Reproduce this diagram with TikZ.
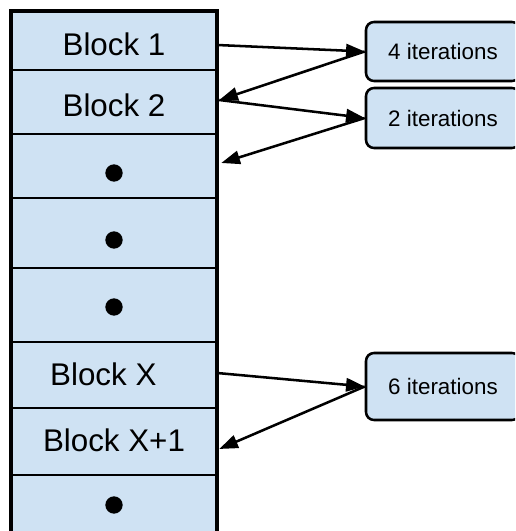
\documentclass[tikz,border=0pt]{standalone}
\usepackage{fontspec}
\setmainfont{Liberation Sans}
\usetikzlibrary{arrows.meta}

\definecolor{blockblue}{HTML}{CFE2F3}

\tikzset{
  cell/.style={draw, fill=blockblue, line width=1.9pt, minimum width=153pt, inner sep=0pt,
    font=\fontsize{23.5}{28}\selectfont, text height=22pt, text depth=0pt},
  iterbox/.style={draw, fill=blockblue, line width=1.9pt, rounded corners=6pt, minimum width=115.5pt,
    inner sep=0pt, font=\fontsize{16.8}{20}\selectfont},
  link/.style={line width=1.9pt, -{Triangle[length=14pt, width=10pt]}},
  bigdot/.style={fill=black}
}

\begin{document}
\begin{tikzpicture}[x=0.75pt, y=-0.75pt]
\clip (0,0) rectangle (515,531);
\fill[white] (0,0) rectangle (515,531);

\node[cell, minimum height=43.5pt] (b1) at (114, 41) {Block 1};
\node[cell, minimum height=48pt] (b2) at (114, 102) {Block 2};
\node[cell, minimum height=48pt] (r3) at (114, 166) {};
\node[cell, minimum height=52.5pt] (r4) at (114, 233) {};
\node[cell, minimum height=55.5pt] (r5) at (114, 305) {};
\node[cell, minimum height=49.5pt, text height=16pt] (b6) at (114, 375) {\hspace*{-16pt}Block X};
\node[cell, minimum height=50.25pt, text height=15pt] (b7) at (114, 441.5) {Block X+1};
\node[cell, minimum height=52.5pt] (r8) at (114, 510) {};
\draw[line width=2.6pt] (b1.north west) rectangle (r8.south east);

\fill[bigdot] ([yshift=-5.25pt]r3.center) circle[radius=6.5pt];
\fill[bigdot] ([yshift=-5.25pt]r4.center) circle[radius=6.5pt];
\fill[bigdot] ([yshift=-1.5pt]r5.center) circle[radius=6.5pt];
\fill[bigdot] ([yshift=3.75pt]r8.center) circle[radius=6.5pt];

\node[iterbox, minimum height=44.25pt] (it4) at (443, 51.5) {4 iterations};
\node[iterbox, minimum height=45pt] (it2) at (443, 118) {2 iterations};
\node[iterbox, minimum height=50.25pt] (it6) at (443, 386.5) {6 iterations};

\draw[link] ([yshift=-3pt]b1.east) -- (it4.west);
\draw[link] (it4.west) -- ([xshift=1.5pt, yshift=1.5pt]b2.east);
\draw[link] ([xshift=1.5pt, yshift=1.5pt]b2.east) -- (it2.west);
\draw[link] (it2.west) -- ([xshift=3pt, yshift=2.25pt]r3.east);
\draw[link] ([yshift=1.5pt]b6.east) -- (it6.west);
\draw[link] (it6.west) -- ([xshift=1.5pt, yshift=-5.6pt]b7.east);

\end{tikzpicture}
\end{document}
